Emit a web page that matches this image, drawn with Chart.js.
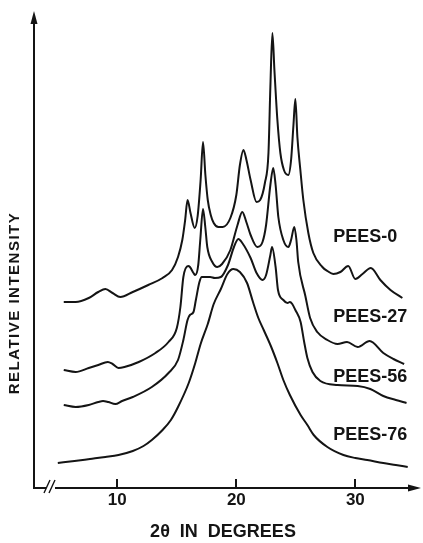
<!DOCTYPE html>
<html>
<head>
<meta charset="UTF-8">
<title>PEES X-ray diffraction</title>
<script src="https://cdn.jsdelivr.net/npm/chart.js@4.4.1/dist/chart.umd.min.js"></script>
<style>
    html, body {
        margin: 0;
        padding: 0;
        background: #fff;
    }
    #wrap {
        width: 423px;
        height: 543px;
    }
</style>
</head>
<body>
<div id="wrap"><canvas id="xrd" width="423" height="543"></canvas></div>
<script>
// 2-theta (degrees) and relative intensity
const pees0Deg = [5.5, 6.5, 7.6, 8.4, 9.0, 9.6, 10.25, 11.3, 12.6, 13.8, 14.6, 15.1, 15.46, 15.7, 15.9, 16.15, 16.5, 16.75, 17.0, 17.2, 17.4, 17.6, 17.85, 18.1, 18.5, 18.85, 19.5, 20.0, 20.3, 20.6, 20.85, 21.2, 21.7, 22.0, 22.4, 22.7, 22.86, 23.03, 23.2, 23.45, 23.7, 24.0, 24.37, 24.6, 24.8, 24.96, 25.13, 25.38, 25.63, 26.05, 26.47, 27.23, 27.65, 28.15, 28.74, 29.4, 30.0, 30.6, 31.3, 32.1, 32.95, 33.95];
const pees0Int = [186, 186, 190, 196, 199, 195, 191, 196, 203, 210, 218, 231, 248, 268, 288, 275, 260, 272, 308, 346, 313, 288, 273, 265, 261, 261, 270, 293, 323, 338, 328, 308, 286, 288, 305, 335, 401, 455, 418, 368, 335, 318, 313, 328, 363, 389, 351, 318, 288, 255, 235, 221, 217, 214, 216, 222, 209, 214, 220, 208, 198, 190];

const pees27Deg = [5.5, 6.5, 7.6, 8.4, 9.2, 9.6, 10.1, 10.6, 11.8, 13.2, 14.3, 15.0, 15.3, 15.55, 15.95, 16.1, 16.4, 16.55, 16.8, 16.97, 17.2, 17.4, 17.56, 17.98, 18.4, 18.8, 19.5, 20.1, 20.5, 20.84, 21.2, 21.76, 22.2, 22.5, 22.86, 23.1, 23.3, 23.53, 23.95, 24.37, 24.6, 24.87, 25.05, 25.2, 25.8, 26.2, 26.8, 27.65, 28.5, 29.3, 30.2, 31.2, 32.35, 33.2, 34.1];
const pees27Int = [118, 116, 120, 123, 126, 124, 120, 121, 126, 135, 146, 160, 181, 211, 222, 221, 215, 213, 223, 248, 279, 260, 241, 226, 221, 224, 238, 263, 276, 266, 253, 241, 246, 263, 303, 320, 303, 271, 248, 241, 248, 261, 248, 226, 192, 170, 156, 148, 144, 146, 141, 147, 135, 129, 124];

const pees56Deg = [5.5, 6.5, 7.6, 8.4, 8.8, 9.24, 9.83, 10.4, 11.3, 12.9, 14.3, 15.1, 15.55, 15.9, 16.1, 16.4, 16.6, 16.9, 17.1, 17.5, 17.8, 18.2, 18.7, 19.3, 19.8, 20.17, 20.5, 21.2, 21.7, 22.2, 22.5, 22.86, 23.0, 23.3, 23.5, 23.95, 24.3, 24.5, 24.7, 24.96, 25.4, 25.7, 25.97, 26.4, 27.06, 28.5, 30.2, 31.26, 32.35, 33.4, 34.3];
const pees56Int = [83, 81, 83, 86, 87, 86, 84, 87, 91, 101, 115, 128, 148, 168, 173, 176, 188, 206, 211, 211, 211, 210, 211, 223, 241, 249, 245, 230, 215, 208, 213, 233, 241, 221, 198, 188, 185, 186, 184, 178, 166, 146, 130, 116, 107, 103, 102, 99, 92, 88, 85];

const pees76Deg = [5.0, 6.4, 7.7, 9.0, 10.1, 11.3, 12.2, 12.9, 13.8, 14.5, 15.1, 16.0, 16.55, 17.0, 17.6, 18.1, 18.7, 19.25, 19.75, 20.3, 20.9, 21.4, 21.85, 22.3, 22.9, 23.45, 23.95, 24.5, 25.4, 25.97, 26.5, 27.65, 29.0, 30.0, 31.0, 32.35, 33.4, 34.4];
const pees76Int = [25, 27, 29, 31, 33, 37, 42, 48, 58, 68, 81, 105, 125, 144, 164, 184, 199, 214, 219, 216, 205, 186, 170, 158, 142, 125, 108, 93, 73, 63, 53, 41, 33, 30, 28, 25, 23, 21];

const seriesNames = ['PEES-0', 'PEES-27', 'PEES-56', 'PEES-76'];
const xTicks = [10, 20, 30];

const ink = '#141414';
const labelFont = '"Liberation Sans", Arial, sans-serif';

function toPoints(xs, ys) {
    return xs.map((x, i) => ({ x: x, y: ys[i] }));
}

function trace(label, xs, ys) {
    return {
        label: label,
        data: toPoints(xs, ys),
        borderColor: ink,
        borderWidth: 2,
        pointRadius: 0,
        fill: false,
        cubicInterpolationMode: 'monotone'
    };
}

// inward ticks, arrows, axis break, series names and the y title
const decorations = {
    id: 'decorations',
    afterDraw(chart, args, opts) {
        const { ctx, chartArea, scales } = chart;
        const xs = scales.x, ys = scales.y;
        const left = chartArea.left, bottom = chartArea.bottom;
        ctx.save();
        ctx.fillStyle = ink;
        ctx.strokeStyle = ink;

        // tick marks point up into the plot
        ctx.lineWidth = 2;
        ctx.beginPath();
        xTicks.forEach(v => {
            const px = Math.round(xs.getPixelForValue(v));
            ctx.moveTo(px, bottom);
            ctx.lineTo(px, bottom - 9);
        });
        ctx.stroke();

        // arrow heads
        ctx.beginPath();
        ctx.moveTo(left, chartArea.top - 9);
        ctx.lineTo(left - 3.5, chartArea.top + 4);
        ctx.lineTo(left + 3.5, chartArea.top + 4);
        ctx.closePath();
        ctx.fill();
        ctx.beginPath();
        ctx.moveTo(chartArea.right + 9, bottom);
        ctx.lineTo(chartArea.right - 4, bottom - 3.5);
        ctx.lineTo(chartArea.right - 4, bottom + 3.5);
        ctx.closePath();
        ctx.fill();

        // axis break
        ctx.fillStyle = '#fff';
        ctx.fillRect(left + 12, bottom - 2, 9, 4);
        ctx.fillStyle = ink;
        ctx.lineWidth = 1.4;
        ctx.beginPath();
        ctx.moveTo(left + 10, bottom + 5);
        ctx.lineTo(left + 16, bottom - 8);
        ctx.moveTo(left + 15, bottom + 5);
        ctx.lineTo(left + 21, bottom - 8);
        ctx.stroke();

        // series names
        ctx.font = 'bold 18px ' + labelFont;
        ctx.textAlign = 'left';
        ctx.textBaseline = 'middle';
        seriesNames.forEach((name, i) => {
            ctx.fillText(name, xs.getPixelForValue(opts.labelX), ys.getPixelForValue(opts.labelY[i]));
        });

        // y title
        ctx.translate(15, bottom - opts.yTitleOffset);
        ctx.rotate(-Math.PI / 2);
        ctx.font = 'bold 15px ' + labelFont;
        ctx.letterSpacing = '1.5px';
        ctx.textAlign = 'center';
        ctx.fillText('RELATIVE INTENSITY', 0, 0);
        ctx.restore();
    }
};

new Chart(document.getElementById('xrd'), {
    type: 'line',
    data: {
        datasets: [
            trace(seriesNames[0], pees0Deg, pees0Int),
            trace(seriesNames[1], pees27Deg, pees27Int),
            trace(seriesNames[2], pees56Deg, pees56Int),
            trace(seriesNames[3], pees76Deg, pees76Int)
        ]
    },
    options: {
        responsive: false,
        animation: false,
        devicePixelRatio: 1,
        layout: { padding: { top: 20, right: 11, bottom: 0, left: 0 } },
        plugins: {
            legend: { display: false },
            tooltip: { enabled: false },
            decorations: { labelX: 28.15, labelY: [251, 171, 111, 53], yTitleOffset: 185 }
        },
        scales: {
            x: {
                type: 'linear',
                min: 3,
                max: 34.76,
                afterBuildTicks: (scale) => { scale.ticks = xTicks.map(v => ({ value: v })); },
                afterFit: (scale) => { scale.height = 55; },
                grid: { display: false, drawTicks: false },
                border: { display: true, color: ink, width: 2 },
                ticks: { color: ink, padding: 2, font: { family: labelFont, size: 17, weight: 'bold' } },
                title: {
                    display: true,
                    text: '2θ  IN  DEGREES',
                    color: ink,
                    padding: 0,
                    font: { family: labelFont, size: 18, weight: 'bold' }
                }
            },
            y: {
                type: 'linear',
                min: 0,
                max: 468,
                afterFit: (scale) => { scale.width = 34; },
                grid: { display: false },
                border: { display: true, color: ink, width: 2 },
                ticks: { display: false }
            }
        }
    },
    plugins: [decorations]
});
</script>
</body>
</html>
